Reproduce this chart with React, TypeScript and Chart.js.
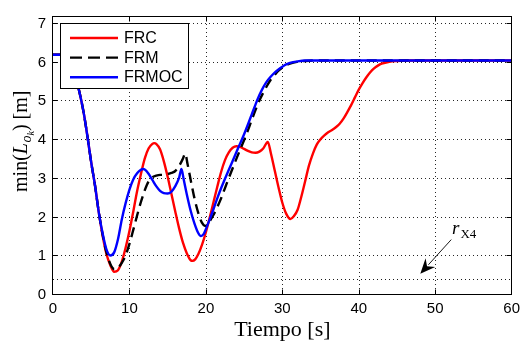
import { useEffect, useRef } from 'react';
import { Chart, registerables } from 'chart.js';

Chart.register(...registerables);

// ---- data ----
const X_TICKS = [0, 10, 20, 30, 40, 50, 60];
const Y_TICKS = [0, 1, 2, 3, 4, 5, 6, 7];
const X_RANGE = [0, 60];
const Y_RANGE = [0, 7.2];

const SERIES_LABELS = ['FRC', 'FRM', 'FRMOC'];

// initial descent shared by all three controllers
const SHARED_START: [number, number][] = [
  [0, 6.2], [1, 6.2], [1.5, 6.19], [2, 6.13], [2.5, 5.95], [3, 5.6], [3.5, 5.2],
  [4, 4.72], [4.5, 4.1], [5, 3.42], [5.5, 2.82], [6, 2.12],
];

const FRC: [number, number][] = [
  ...SHARED_START,
  [6.5, 1.52], [7, 1.05], [7.5, 0.77], [8, 0.6], [8.5, 0.64], [9, 0.86], [9.5, 1.22],
  [10, 1.65], [10.5, 2.15], [11, 2.68], [11.5, 3.12], [12, 3.52], [12.5, 3.78], [13, 3.9],
  [13.25, 3.92], [13.5, 3.9], [14, 3.76], [14.5, 3.45], [15, 3.05], [15.5, 2.6], [16, 2.15],
  [16.5, 1.72], [17, 1.35], [17.5, 1.08], [18, 0.9], [18.25, 0.88], [18.6, 0.92], [19, 1.05],
  [19.5, 1.3], [20, 1.62], [20.5, 2.0], [21, 2.4], [21.5, 2.8], [22, 3.18], [22.5, 3.48],
  [23, 3.68], [23.5, 3.8], [24, 3.84], [24.5, 3.82], [25, 3.77], [25.5, 3.72], [26, 3.68],
  [26.5, 3.67], [27, 3.7], [27.5, 3.78], [28.1, 3.95], [28.5, 3.66], [29, 3.22], [29.5, 2.78],
  [30, 2.38], [30.5, 2.1], [31.05, 1.96], [31.5, 2.03], [32, 2.2], [32.5, 2.55], [33, 2.95],
  [33.5, 3.35], [34, 3.65], [34.5, 3.88], [35, 4.02], [35.5, 4.12], [36, 4.2], [36.5, 4.26],
  [37, 4.33], [37.5, 4.42], [38, 4.55], [38.5, 4.72], [39, 4.9], [39.5, 5.1], [40, 5.3],
  [40.5, 5.47], [41, 5.62], [41.5, 5.75], [42, 5.85], [42.5, 5.92], [43, 5.97], [44, 6.02],
  [45, 6.04], [46, 6.05], [50, 6.05], [55, 6.05], [60, 6.05],
];

const FRM: [number, number][] = [
  ...SHARED_START,
  [6.5, 1.55], [7, 1.1], [7.5, 0.8], [8, 0.67], [8.5, 0.7], [9, 0.83], [9.5, 1.02],
  [10, 1.32], [10.5, 1.68], [11, 2.05], [11.5, 2.4], [12, 2.7], [12.5, 2.93], [13, 3.04],
  [13.5, 3.08], [14, 3.1], [14.5, 3.1], [15, 3.12], [15.5, 3.15], [16, 3.2], [16.5, 3.33],
  [17, 3.52], [17.3, 3.65], [17.6, 3.38], [18, 2.98], [18.5, 2.5], [19, 2.12], [19.5, 1.86],
  [19.9, 1.78], [20.3, 1.84], [20.7, 1.97], [21, 2.07], [21.5, 2.27], [22, 2.5], [22.5, 2.76],
  [23, 3.02], [23.5, 3.27], [24, 3.52], [24.5, 3.76], [25, 4.0], [25.5, 4.25], [26, 4.52],
  [26.5, 4.78], [27, 5.02], [27.5, 5.22], [28, 5.4], [28.5, 5.56], [29, 5.68], [29.5, 5.79],
  [30, 5.87], [30.5, 5.93], [31, 5.97], [32, 6.02], [33, 6.04], [34, 6.05], [40, 6.05],
  [50, 6.05], [60, 6.05],
];

const FRMOC: [number, number][] = [
  ...SHARED_START,
  [6.5, 1.58], [7, 1.17], [7.5, 1.02], [8, 1.1], [8.5, 1.44], [9, 1.95], [9.5, 2.37],
  [10, 2.72], [10.5, 2.98], [11, 3.14], [11.5, 3.23], [11.75, 3.25], [12, 3.24], [12.5, 3.13],
  [13, 2.97], [13.5, 2.81], [14, 2.69], [14.5, 2.63], [15, 2.62], [15.5, 2.67], [16, 2.81],
  [16.5, 3.03], [16.8, 3.25], [17.1, 2.98], [17.5, 2.6], [18, 2.18], [18.5, 1.85], [19, 1.6],
  [19.35, 1.52], [19.7, 1.57], [20, 1.7], [20.5, 1.95], [21, 2.22], [21.5, 2.5], [22, 2.76],
  [22.5, 3.0], [23, 3.23], [23.5, 3.46], [24, 3.69], [24.5, 3.92], [25, 4.15], [25.5, 4.4],
  [26, 4.66], [26.5, 4.92], [27, 5.16], [27.5, 5.36], [28, 5.52], [28.5, 5.64], [29, 5.74],
  [29.5, 5.82], [30, 5.89], [30.5, 5.95], [31, 5.99], [32, 6.03], [33, 6.05], [40, 6.05],
  [50, 6.05], [60, 6.05],
];

// threshold r_X4
const THRESHOLD = 0.4;
const THRESHOLD_LABEL = 'r';
const THRESHOLD_SUB = 'X4';
// arrow annotation in data coordinates: [tailX, tailY, tipX, tipY]
const ARROW = [52.1, 1.43, 48.05, 0.55];
const ARROW_LABEL_AT = [52.2, 1.58];

const X_TITLE = 'Tiempo [s]';

// ---- styles ----
const COLORS = ['#ff0000', '#000000', '#0000ff'];
const DASHES: number[][] = [[], [10, 6], []];
const SANS = '"Liberation Sans", Arial, Helvetica, sans-serif';
const SERIF = '"Liberation Serif", "Times New Roman", serif';

const toXY = (pts: [number, number][]) => pts.map(([x, y]) => ({ x, y }));

const decorPlugin = {
  id: 'decor',
  beforeDatasetsDraw(chart: any) {
    const { ctx, chartArea: a, scales } = chart;
    const xs = scales.x;
    const ys = scales.y;
    ctx.save();
    ctx.strokeStyle = 'rgba(0,0,0,0.85)';
    ctx.lineWidth = 1;
    ctx.setLineDash([1, 3]);
    ctx.beginPath();
    for (const v of X_TICKS) {
      if (v <= X_RANGE[0] || v >= X_RANGE[1]) continue;
      const px = Math.round(xs.getPixelForValue(v)) + 0.5;
      ctx.moveTo(px, a.top);
      ctx.lineTo(px, a.bottom);
    }
    for (const v of Y_TICKS) {
      if (v <= Y_RANGE[0] || v >= Y_RANGE[1]) continue;
      const py = Math.round(ys.getPixelForValue(v)) - 0.5;
      ctx.moveTo(a.left, py);
      ctx.lineTo(a.right, py);
    }
    ctx.stroke();
    ctx.restore();
  },
  afterDatasetsDraw(chart: any) {
    const { ctx, chartArea: a, scales } = chart;
    const xs = scales.x;
    const ys = scales.y;
    ctx.save();
    // frame
    ctx.setLineDash([]);
    ctx.strokeStyle = '#000';
    ctx.lineWidth = 1;
    const L = Math.round(a.left) - 0.5;
    const R = Math.round(a.right) - 0.5;
    const T = Math.round(a.top) + 0.5;
    const B = Math.round(a.bottom) - 0.5;
    ctx.strokeRect(L, T, R - L, B - T);
    // inward ticks
    const tl = 5;
    ctx.beginPath();
    for (const v of X_TICKS) {
      if (v <= X_RANGE[0] || v >= X_RANGE[1]) continue;
      const px = Math.round(xs.getPixelForValue(v)) + 0.5;
      ctx.moveTo(px, B); ctx.lineTo(px, B - tl);
      ctx.moveTo(px, T); ctx.lineTo(px, T + tl);
    }
    for (const v of Y_TICKS) {
      if (v <= Y_RANGE[0] || v >= Y_RANGE[1]) continue;
      const py = Math.round(ys.getPixelForValue(v)) - 0.5;
      ctx.moveTo(L, py); ctx.lineTo(L + tl, py);
      ctx.moveTo(R, py); ctx.lineTo(R - tl, py);
    }
    ctx.stroke();

    // arrow annotation
    const tx = xs.getPixelForValue(ARROW[0]);
    const ty = ys.getPixelForValue(ARROW[1]);
    const hx = xs.getPixelForValue(ARROW[2]);
    const hy = ys.getPixelForValue(ARROW[3]);
    const ang = Math.atan2(hy - ty, hx - tx);
    const cs = Math.cos(ang);
    const sn = Math.sin(ang);
    const headLen = 15;
    const headW = 6.5;
    const bx = hx - headLen * cs;
    const by = hy - headLen * sn;
    ctx.beginPath();
    ctx.moveTo(tx, ty);
    ctx.lineTo(bx + 3 * cs, by + 3 * sn);
    ctx.lineWidth = 0.9;
    ctx.stroke();
    const nx = -sn;
    const ny = cs;
    const notch = 5;
    ctx.beginPath();
    ctx.moveTo(hx, hy);
    ctx.lineTo(bx + nx * headW, by + ny * headW);
    ctx.lineTo(bx + notch * cs, by + notch * sn);
    ctx.lineTo(bx - nx * headW, by - ny * headW);
    ctx.closePath();
    ctx.fillStyle = '#000';
    ctx.fill();

    // r_X4 label
    const lx = xs.getPixelForValue(ARROW_LABEL_AT[0]);
    const ly = ys.getPixelForValue(ARROW_LABEL_AT[1]);
    ctx.fillStyle = '#000';
    ctx.textBaseline = 'alphabetic';
    ctx.textAlign = 'left';
    ctx.font = `italic 19px ${SERIF}`;
    ctx.fillText(THRESHOLD_LABEL, lx, ly);
    const rw = ctx.measureText(THRESHOLD_LABEL).width;
    ctx.font = `13px ${SERIF}`;
    ctx.fillText(THRESHOLD_SUB, lx + rw + 1, ly + 4);

    // legend
    const bxl = a.left + 7;
    const byl = a.top + 7;
    const bw = 128;
    const bh = 65;
    ctx.fillStyle = '#fff';
    ctx.fillRect(bxl, byl, bw, bh);
    ctx.strokeStyle = '#000';
    ctx.lineWidth = 1;
    ctx.strokeRect(Math.round(bxl) + 0.5, Math.round(byl) + 0.5, bw, bh);
    ctx.font = `16px ${SANS}`;
    ctx.textBaseline = 'middle';
    SERIES_LABELS.forEach((lab, i) => {
      const yy = byl + 15 + i * 19.6;
      ctx.beginPath();
      ctx.setLineDash(i === 1 ? [12, 6] : []);
      ctx.strokeStyle = COLORS[i];
      ctx.lineWidth = 2.4;
      ctx.moveTo(bxl + 10, yy);
      ctx.lineTo(bxl + 58, yy);
      ctx.stroke();
      ctx.setLineDash([]);
      ctx.fillStyle = '#000';
      ctx.fillText(lab, bxl + 64, yy + 0.5);
    });
    ctx.restore();
  },
  afterDraw(chart: any) {
    const { ctx, chartArea: a } = chart;
    ctx.save();
    ctx.fillStyle = '#000';
    // x title
    ctx.font = `22px ${SERIF}`;
    ctx.textAlign = 'center';
    ctx.textBaseline = 'alphabetic';
    ctx.fillText(X_TITLE, (a.left + a.right) / 2, chart.height - 9);

    // y title: min(L_{o_k}) [m]
    const segs = [
      { t: 'min(', f: `20px ${SERIF}`, dy: 0 },
      { t: 'L', f: `italic 20px ${SERIF}`, dy: 0 },
      { t: 'o', f: `italic 14px ${SERIF}`, dy: 4 },
      { t: 'k', f: `italic 10px ${SERIF}`, dy: 7 },
      { t: ') [m]', f: `20px ${SERIF}`, dy: 0 },
    ];
    let total = 0;
    const widths = segs.map((s) => {
      ctx.font = s.f;
      const w = ctx.measureText(s.t).width;
      total += w;
      return w;
    });
    ctx.translate(27, (a.top + a.bottom) / 2 - 14);
    ctx.rotate(-Math.PI / 2);
    ctx.textAlign = 'left';
    let cx = -total / 2;
    segs.forEach((s, i) => {
      ctx.font = s.f;
      ctx.fillText(s.t, cx, s.dy);
      cx += widths[i] + (i === 1 ? 0.5 : 0);
    });
    ctx.restore();
  },
};

export default function App() {
  const ref = useRef<HTMLCanvasElement>(null);
  useEffect(() => {
    const canvas = ref.current;
    if (!canvas) return;
    const series = [FRC, FRM, FRMOC];
    const datasets: any[] = series.map((pts, i) => ({
      label: SERIES_LABELS[i],
      data: toXY(pts),
      borderColor: COLORS[i],
      borderDash: DASHES[i],
      borderWidth: 2.4,
      pointRadius: 0,
      fill: false,
      cubicInterpolationMode: 'monotone',
      order: 3 - i,
    }));
    datasets.push({
      label: 'threshold',
      data: [
        { x: X_RANGE[0], y: THRESHOLD },
        { x: X_RANGE[1], y: THRESHOLD },
      ],
      borderColor: 'rgba(0,0,0,0.9)',
      borderDash: [1, 3],
      borderWidth: 1,
      pointRadius: 0,
      fill: false,
      order: 10,
    });
    const tickFont = { family: SANS, size: 15 };
    const chart = new Chart(canvas, {
      type: 'line',
      data: { datasets },
      plugins: [decorPlugin],
      options: {
        animation: false,
        responsive: false,
        events: [],
        layout: { padding: { top: 9, right: 10, left: 0, bottom: 0 } },
        plugins: { legend: { display: false }, tooltip: { enabled: false } },
        scales: {
          x: {
            type: 'linear',
            min: X_RANGE[0],
            max: X_RANGE[1],
            afterBuildTicks: (s: any) => {
              s.ticks = X_TICKS.map((v) => ({ value: v }));
            },
            afterFit: (s: any) => {
              s.height = 50;
            },
            grid: { display: false, drawTicks: false },
            border: { display: false },
            ticks: { font: tickFont, color: '#000', padding: 5, maxRotation: 0, autoSkip: false },
          },
          y: {
            type: 'linear',
            min: Y_RANGE[0],
            max: Y_RANGE[1],
            afterBuildTicks: (s: any) => {
              s.ticks = Y_TICKS.map((v) => ({ value: v }));
            },
            afterFit: (s: any) => {
              s.width = 53;
            },
            grid: { display: false, drawTicks: false },
            border: { display: false },
            ticks: { font: tickFont, color: '#000', padding: 7, autoSkip: false },
          },
        },
      } as any,
    });
    return () => chart.destroy();
  }, []);
  return (
    <div style={{ position: 'absolute', left: 0, top: 0, width: 525, height: 345, background: '#fff' }}>
      <canvas ref={ref} width={525} height={345} style={{ display: 'block' }} />
    </div>
  );
}
